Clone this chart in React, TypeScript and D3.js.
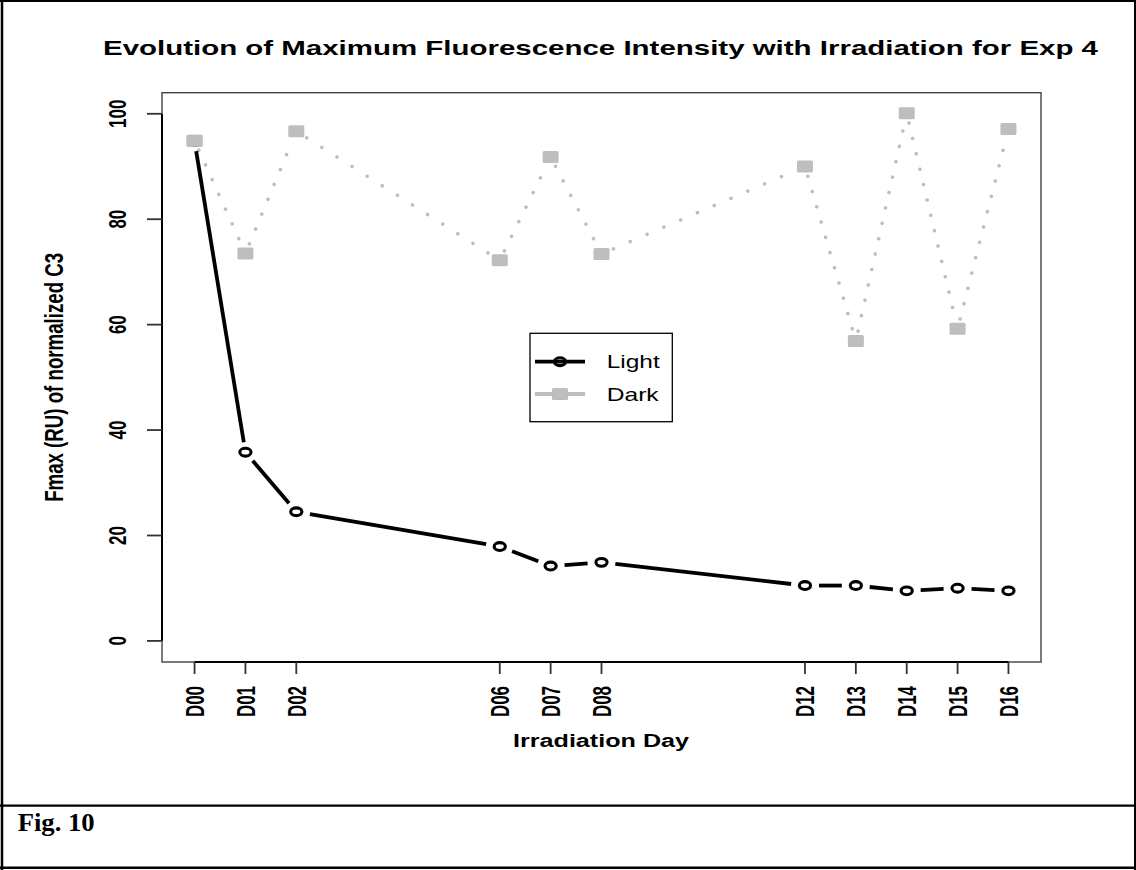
import React from 'react';
import * as d3 from 'd3';

const days = [0, 1, 2, 6, 7, 8, 12, 13, 14, 15, 16];
const dayLabels = ['D00', 'D01', 'D02', 'D06', 'D07', 'D08', 'D12', 'D13', 'D14', 'D15', 'D16'];
const lightValues = [94.8, 35.8, 24.5, 17.9, 14.2, 14.9, 10.5, 10.5, 9.5, 10.0, 9.5];
const darkValues = [94.9, 73.5, 96.7, 72.2, 91.8, 73.4, 90.0, 56.9, 100.1, 59.2, 97.1];
const yTicks = [0, 20, 40, 60, 80, 100];
const seriesNames = ['Light', 'Dark'];

const W = 1136;
const H = 870;
const PL = 162, PR = 1041, PT = 92.7, PB = 662;
const SANS = '"Liberation Sans", Arial, Helvetica, sans-serif';
const SERIF = '"Liberation Serif", "Times New Roman", serif';
const GRAY = '#bebebe';

const x = d3.scaleLinear().domain([-0.64, 16.64]).range([PL, PR]);
const y = d3.scaleLinear().domain([-4, 104]).range([PB, PT]);

function trim(x1: number, y1: number, x2: number, y2: number, rx: number, ry: number) {
  const dx = x2 - x1, dy = y2 - y1;
  const L = Math.hypot(dx, dy);
  const ux = dx / L, uy = dy / L;
  const t = 1 / Math.sqrt((ux / rx) ** 2 + (uy / ry) ** 2);
  if (2 * t >= L) return null;
  return { x1: x1 + ux * t, y1: y1 + uy * t, x2: x2 - ux * t, y2: y2 - uy * t, ux, uy };
}

function segments(values: number[]) {
  const out: any[] = [];
  for (let i = 0; i < values.length - 1; i++) {
    const s = trim(x(days[i]), y(values[i]), x(days[i + 1]), y(values[i + 1]), 14, 10);
    if (s) out.push(s);
  }
  return out;
}

export default function App() {
  const lightSegs = segments(lightValues);
  const darkSegs = segments(darkValues);
  const yTickLen = (v: number) => String(v).length * 9.4;
  return (
    <svg width={W} height={H} viewBox={`0 0 ${W} ${H}`}
      style={{ position: 'absolute', left: 0, top: 0, background: '#fff' }}>
      <rect x={0} y={0} width={W} height={H} fill="#fff" />
      {/* frame */}
      <line x1={0} y1={1} x2={W} y2={1} stroke="#000" strokeWidth={2} />
      <line x1={2} y1={0} x2={2} y2={H} stroke="#000" strokeWidth={2.5} />
      <line x1={0} y1={805.7} x2={W} y2={805.7} stroke="#000" strokeWidth={2.2} />
      <line x1={0} y1={867.8} x2={W} y2={867.8} stroke="#000" strokeWidth={2.5} />
      <line x1={1135} y1={0} x2={1135} y2={H} stroke="#000" strokeWidth={2} />
      <text x={17.7} y={831} fontFamily={SERIF} fontWeight="bold" fontSize={26} textLength={77} lengthAdjust="spacingAndGlyphs">Fig. 10</text>

      {/* title */}
      <text x={103} y={54.5} fontFamily={SANS} fontWeight="bold" fontSize={21} textLength={995} lengthAdjust="spacingAndGlyphs">
        Evolution of Maximum Fluorescence Intensity with Irradiation for Exp 4
      </text>

      {/* plot box */}
      <rect x={PL} y={PT} width={PR - PL} height={PB - PT} fill="none" stroke="#444" strokeWidth={1.4} />
      {/* y axis */}
      <line x1={PL} y1={y(0)} x2={PL} y2={y(100)} stroke="#000" strokeWidth={2} />
      {yTicks.map(v => (
        <g key={v}>
          <line x1={PL - 15} x2={PL} y1={y(v)} y2={y(v)} stroke="#333" strokeWidth={1.8} />
          <text transform={`translate(125.5,${y(v)}) rotate(-90)`} textAnchor="middle"
            fontFamily={SANS} fontWeight="bold" fontSize={23}
            textLength={yTickLen(v)} lengthAdjust="spacingAndGlyphs">{v}</text>
        </g>
      ))}
      {/* x axis */}
      <line x1={x(days[0])} y1={PB} x2={x(days[days.length - 1])} y2={PB} stroke="#000" strokeWidth={2} />
      {days.map((d, i) => (
        <g key={d}>
          <line x1={x(d)} x2={x(d)} y1={PB} y2={PB + 12} stroke="#333" strokeWidth={1.8} />
          <text transform={`translate(${x(d) + 9.5},686) rotate(-90)`} textAnchor="end"
            fontFamily={SANS} fontWeight="bold" fontSize={25}
            textLength={31} lengthAdjust="spacingAndGlyphs">{dayLabels[i]}</text>
        </g>
      ))}
      <text x={601} y={746.7} textAnchor="middle" fontFamily={SANS} fontWeight="bold" fontSize={18.7}
        textLength={176} lengthAdjust="spacingAndGlyphs">Irradiation Day</text>
      <text transform={`translate(63,${(PT + PB) / 2}) rotate(-90)`} textAnchor="middle"
        fontFamily={SANS} fontWeight="bold" fontSize={25} textLength={249} lengthAdjust="spacingAndGlyphs">
        Fmax (RU) of normalized C3
      </text>

      {/* dark series */}
      {darkSegs.map((s, i) => {
        const p = 15.6 * Math.sqrt((s.ux * 1.2) ** 2 + s.uy ** 2);
        return (
          <line key={'ds' + i} x1={s.x1} y1={s.y1} x2={s.x2} y2={s.y2} stroke={GRAY}
            strokeWidth={3.6} strokeLinecap="round" strokeDasharray={`0.01 ${p}`} />
        );
      })}
      {darkValues.map((v, i) => (
        <rect key={'dp' + i} x={x(days[i]) - 8} y={y(v) - 6} width={16} height={12} rx={1.5} fill={GRAY} />
      ))}

      {/* light series */}
      {lightSegs.map((s, i) => (
        <line key={'ls' + i} x1={s.x1} y1={s.y1} x2={s.x2} y2={s.y2} stroke="#000" strokeWidth={3.8} />
      ))}
      {lightValues.map((v, i) => (
        <ellipse key={'lp' + i} cx={x(days[i])} cy={y(v)} rx={5.6} ry={3.9} fill="none" stroke="#000" strokeWidth={3.1} />
      ))}
      {/* dark D00 square drawn on top: it hides the light D00 point */}
      <rect x={x(days[0]) - 8} y={y(darkValues[0]) - 6} width={16} height={12} rx={1.5} fill={GRAY} />

      {/* legend */}
      <rect x={530} y={333.3} width={142.3} height={88.4} fill="#fff" stroke="#000" strokeWidth={1.3} />
      <line x1={535} x2={585} y1={361.7} y2={361.7} stroke="#000" strokeWidth={3.8} />
      <ellipse cx={560} cy={361.7} rx={5.6} ry={3.9} fill="none" stroke="#000" strokeWidth={3.1} />
      <text x={606.7} y={368.4} fontFamily={SANS} fontSize={18.6} textLength={53} lengthAdjust="spacingAndGlyphs">{seriesNames[0]}</text>
      <line x1={535} x2={585} y1={394} y2={394} stroke={GRAY} strokeWidth={3.8} />
      <rect x={552} y={388} width={16} height={12} rx={1.5} fill={GRAY} />
      <text x={606.7} y={400.7} fontFamily={SANS} fontSize={18.6} textLength={52} lengthAdjust="spacingAndGlyphs">{seriesNames[1]}</text>
    </svg>
  );
}
